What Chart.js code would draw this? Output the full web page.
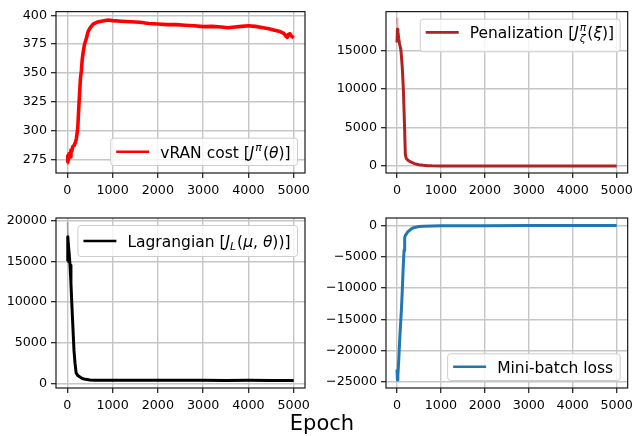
<!DOCTYPE html>
<html><head><meta charset="utf-8">
<script src="https://cdn.jsdelivr.net/npm/chart.js@4.4.0/dist/chart.umd.min.js"></script>
<style>
html,body{margin:0;padding:0;background:#fff;width:638px;height:436px;overflow:hidden;}
.c{position:absolute;}
#epoch{position:absolute;left:0;width:644px;top:409px;text-align:center;font:21px "DejaVu Sans";color:#000;line-height:28px;}
</style></head><body>
<canvas class="c" id="c1" width="319" height="200" style="left:0;top:0"></canvas>
<canvas class="c" id="c2" width="319" height="200" style="left:319px;top:0"></canvas>
<canvas class="c" id="c3" width="319" height="215" style="left:0;top:200px"></canvas>
<canvas class="c" id="c4" width="319" height="215" style="left:319px;top:200px"></canvas>
<div id="epoch">Epoch</div>
<script>
// ---- data ----
const xTicks = [0, 1000, 2000, 3000, 4000, 5000];

const costEpochs = [0,10,20,40,60,80,100,120,150,180,200,230,260,290,310,330,350,380,420,460,500,570,650,750,900,1000,1200,1400,1600,1800,2000,2200,2400,2600,2800,3000,3200,3400,3550,3700,3850,4000,4150,4300,4450,4600,4700,4780,4830,4860,4880,4920,4950,5000];
const costValues = [272,278,274,280,277,283,282,286,287,290,293,302,325,345,352,362,368,375,380,386,389,392.5,394,395,396,395.5,395,394.5,394,393,392.5,392,392,391.5,391,390.3,390.5,390,389.3,390,390.5,391,390.5,389.5,388.5,387,386,384.5,382,381,383.5,384,382,380.5];

const penEpochs = [0,10,20,40,60,90,120,145,170,190,210,250,300,350,400,450,500,600,700,800,1000,1500,2000,3000,4000,5000];
const penValues = [16000,17700,17400,16500,15800,15000,12800,10000,5500,1500,1000,750,550,420,300,220,160,80,40,20,10,5,3,2,1,1];
const penBandEpochs = [0,5,10,20,40];
const penBandValues = [18500,19200,18600,17800,16800];

const lagEpochs = [0,10,20,40,60,80,110,147,170,195,230,280,330,400,500,600,800,1000,1500,2000,2500,3000,3500,4000,4500,4800,5000];
const lagValues = [15000,18000,17200,16000,14500,12300,8500,4100,2500,1300,1000,800,620,520,450,420,405,400,398,396,395,394,393,394,392,388,385];
const lagBandEpochs = [0,5,10,20,40];
const lagBandValues = [19000,19800,19000,17800,16500];

const lossEpochs = [0,10,20,40,60,80,100,120,140,160,175,190,220,250,300,350,400,500,600,800,1000,2000,3000,4000,5000];
const lossValues = [-23000,-24700,-24000,-21500,-18500,-16000,-13500,-10500,-7000,-4000,-2000,-1600,-1300,-1000,-700,-450,-320,-180,-120,-80,-60,-40,-30,-25,-20];

const costTicks = [275, 300, 325, 350, 375, 400];
const penTicks = [0, 5000, 10000, 15000];
const lagTicks = [0, 5000, 10000, 15000, 20000];
const lossTicks = [-25000, -20000, -15000, -10000, -5000, 0];

// ---- legend / frame plugin ----
const FF = '"DejaVu Sans"';
function segFont(seg, fs){ return (seg.i ? 'italic ' : '') + (fs*(seg.s||1)) + 'px ' + FF; }
function segWidth(ctx, seg, fs){
  ctx.font = segFont(seg, fs);
  if (seg.stack) return Math.max(...seg.stack.map(p => ctx.measureText(p.t).width));
  return ctx.measureText(seg.t).width + (seg.pad||0);
}
function drawRich(ctx, segs, x, y, fs){
  let cx = x;
  for (const seg of segs){
    ctx.font = segFont(seg, fs);
    if (seg.stack){
      for (const p of seg.stack) ctx.fillText(p.t, cx + (p.dx||0), y + p.dy);
    } else {
      ctx.fillText(seg.t, cx + (seg.dx||0), y + (seg.dy||0));
    }
    cx += segWidth(ctx, seg, fs);
  }
  return cx - x;
}
const mplPlugin = {
  id: 'mpl',
  afterDatasetsDraw(chart){
    const spec = chart.options.plugins.mpl;
    if (!spec) return;
    const ctx = chart.ctx, a = chart.chartArea;
    ctx.save();
    ctx.strokeStyle = '#1a1a1a'; ctx.lineWidth = 1.2;
    ctx.strokeRect(a.left, a.top, a.right - a.left, a.bottom - a.top);
    const fs = 15.5;
    let tw = 0; for (const s of spec.segs) tw += segWidth(ctx, s, fs);
    const bw = 5.5 + 33 + 11 + tw + 7;
    const bh = spec.h;
    const bx = spec.loc.indexOf('right') >= 0 ? a.right - 7.5 - bw : a.left + 7.5;
    const by = spec.loc.indexOf('upper') >= 0 ? a.top + 7.5 : a.bottom - 7.5 - bh;
    ctx.beginPath();
    ctx.roundRect(bx, by, bw, bh, 3);
    ctx.fillStyle = 'rgba(255,255,255,0.8)'; ctx.fill();
    ctx.strokeStyle = '#cccccc'; ctx.lineWidth = 1; ctx.stroke();
    const hy = by + spec.hy;
    ctx.beginPath(); ctx.moveTo(bx + 5.5, hy); ctx.lineTo(bx + 38.5, hy);
    ctx.strokeStyle = spec.color; ctx.lineWidth = 2.6; ctx.stroke();
    ctx.fillStyle = '#000'; ctx.textBaseline = 'alphabetic'; ctx.textAlign = 'left';
    drawRich(ctx, spec.segs, bx + 49.5, hy + 5.8, fs);
    ctx.restore();
  }
};
Chart.register(mplPlugin);

function fmt(v){ return v < 0 ? '\u2212' + Math.abs(v) : String(v); }

function makeChart(id, epochs, values, color, lw, yTicks, ymin, ymax, area, legend, band){
  const cv = document.getElementById(id);
  const W = cv.width, H = cv.height;
  const pts = epochs.map((e, k) => ({x: e, y: values[k]}));
  const datasets = [];
  if (band) {
    datasets.push({data: band.epochs.map((e, k) => ({x: e, y: band.values[k]})), borderColor: band.color, borderWidth: 2, pointRadius: 0, tension: 0, fill: false});
  }
  datasets.push({data: pts, borderColor: color, borderWidth: lw, pointRadius: 0, tension: 0, fill: false, borderJoinStyle: 'round'});
  const gridCfg = {color: '#c6c6c6', lineWidth: 1.4, tickColor: '#1a1a1a', tickLength: 5, tickWidth: 1.2, drawTicks: true};
  const tickFont = {family: 'DejaVu Sans', size: 12.7};
  return new Chart(cv, {
    type: 'line',
    data: {datasets: datasets},
    options: {
      responsive: false, animation: false, devicePixelRatio: 1,
      layout: {padding: {left: 0, top: area.top, right: W - area.right, bottom: 0}},
      plugins: {legend: {display: false}, tooltip: {enabled: false}, mpl: legend},
      scales: {
        x: {type: 'linear', min: -250, max: 5250,
            afterBuildTicks: s => { s.ticks = xTicks.map(v => ({value: v})); },
            afterFit: s => { s.height = H - area.bottom; },
            grid: gridCfg, border: {display: false},
            ticks: {font: tickFont, color: '#000', padding: 5, maxRotation: 0, autoSkip: false, callback: v => fmt(v)}},
        y: {type: 'linear', min: ymin, max: ymax,
            afterBuildTicks: s => { s.ticks = yTicks.map(v => ({value: v})); },
            afterFit: s => { s.width = area.left; },
            grid: gridCfg, border: {display: false},
            ticks: {font: tickFont, color: '#000', padding: 4, autoSkip: false, callback: v => fmt(v)}}
      }
    }
  });
}

makeChart('c1', costEpochs, costValues, '#ff0000', 3.6, costTicks, 263.1, 403.3,
  {left: 56, top: 3, right: 305, bottom: 173},
  {loc: 'lower right', color: '#ff0000', h: 27.3, hy: 13.5,
   segs: [{t: 'vRAN cost ['}, {t: 'J', i: 1, pad: 1}, {t: 'π', i: 1, s: 0.7, dy: -6.5, pad: 1}, {t: '('}, {t: 'θ', i: 1}, {t: ')]'}]});

makeChart('c2', penEpochs, penValues, '#b22222', 3, penTicks, -910, 20000,
  {left: 67, top: 3, right: 315, bottom: 173},
  {loc: 'upper right', color: '#b22222', h: 32.7, hy: 13.3,
   segs: [{t: 'Penalization ['}, {t: 'J', i: 1, pad: 1}, {stack: [{t: 'π', dy: -7}, {t: 'ζ', dy: 4}], i: 1, s: 0.7}, {t: '(', dx: 1}, {t: 'ξ', i: 1, dx: 1}, {t: ')]', dx: 1}]},
  {epochs: penBandEpochs, values: penBandValues, color: 'rgba(178,34,34,0.25)'});

makeChart('c3', lagEpochs, lagValues, '#000000', 3, lagTicks, -541, 20295,
  {left: 56, top: 18, right: 305, bottom: 188},
  {loc: 'upper right', color: '#000000', h: 31, hy: 15.5,
   segs: [{t: 'Lagrangian ['}, {t: 'J', i: 1}, {t: 'L', i: 1, s: 0.7, dy: 3, pad: 1}, {t: '('}, {t: 'μ', i: 1}, {t: ', '}, {t: 'θ', i: 1}, {t: '))]'}]},
  {epochs: lagBandEpochs, values: lagBandValues, color: 'rgba(0,0,0,0.2)'});

makeChart('c4', lossEpochs, lossValues, '#1f77b4', 3, lossTicks, -25962, 1186,
  {left: 67, top: 18, right: 315, bottom: 188},
  {loc: 'lower right', color: '#1f77b4', h: 26.7, hy: 13,
   segs: [{t: 'Mini-batch loss'}]});
</script>
</body></html>
